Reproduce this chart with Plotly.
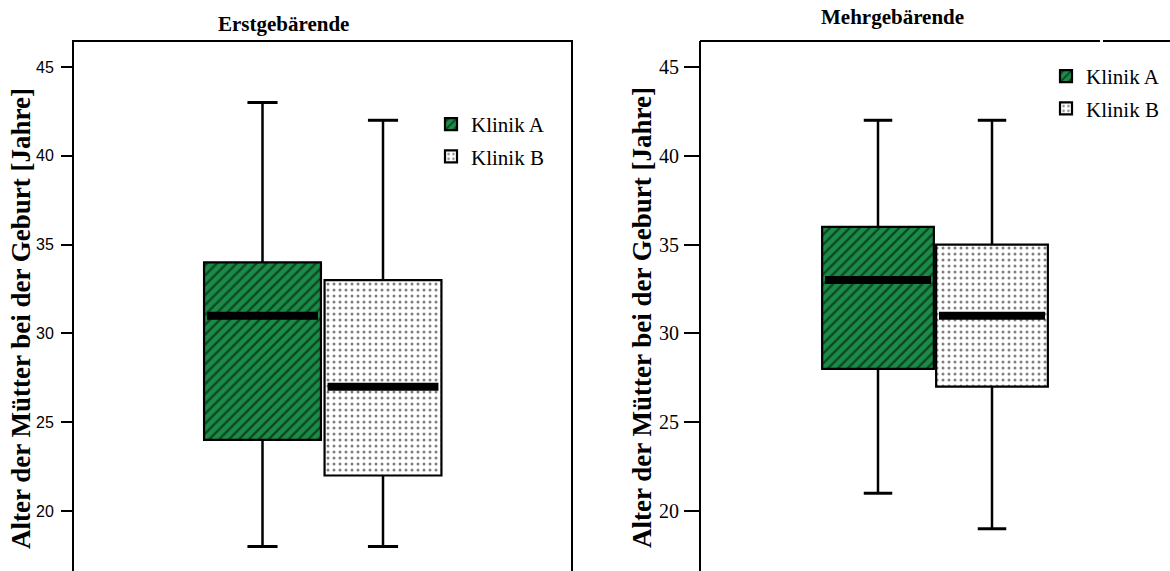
import plotly.graph_objects as go

# Box statistics (age of mothers at birth, years)
clinics = ["Klinik A", "Klinik B"]
positions = [0, 1]

erst_lower = [18, 18]
erst_q1 = [24, 22]
erst_median = [31, 27]
erst_q3 = [34, 33]
erst_upper = [43, 42]

mehr_lower = [21, 19]
mehr_q1 = [28, 27]
mehr_median = [33, 31]
mehr_q3 = [36, 35]
mehr_upper = [42, 42]

y_ticks = [20, 25, 30, 35, 40, 45]

GREEN = "#1b8c48"
patterns = [
    dict(shape="/", fgcolor="black", bgcolor=GREEN, size=7, solidity=0.33),
    dict(shape=".", fgcolor="black", bgcolor="white", size=6, solidity=0.2),
]
fill_colors = [GREEN, "white"]

W, H = 1170, 571
fig = go.Figure()


def add_panel(xa, ya, legend, lower, q1, med, q3, upper, box_w):
    for i, name in enumerate(clinics):
        fig.add_trace(go.Bar(
            x=[positions[i]], y=[q3[i] - q1[i]], base=[q1[i]], width=box_w,
            name=name, legend=legend, legendgroup=legend + name,
            marker=dict(color=fill_colors[i], pattern=patterns[i],
                        line=dict(color="black", width=2.2)),
            xaxis=xa, yaxis=ya, hoverinfo="skip",
        ))
    for i in range(len(clinics)):
        c = positions[i]
        # whiskers
        fig.add_trace(go.Scatter(
            x=[c, c, None, c, c], y=[q3[i], upper[i], None, q1[i], lower[i]],
            mode="lines", line=dict(color="black", width=2.5),
            showlegend=False, xaxis=xa, yaxis=ya, hoverinfo="skip"))
        # caps
        fig.add_trace(go.Scatter(
            x=[c - 0.125, c + 0.125, None, c - 0.125, c + 0.125],
            y=[upper[i], upper[i], None, lower[i], lower[i]],
            mode="lines", line=dict(color="black", width=3),
            showlegend=False, xaxis=xa, yaxis=ya, hoverinfo="skip"))
        # median
        half = box_w / 2 - 0.025
        fig.add_trace(go.Scatter(
            x=[c - half, c + half], y=[med[i], med[i]],
            mode="lines", line=dict(color="black", width=8),
            showlegend=False, xaxis=xa, yaxis=ya, hoverinfo="skip"))


add_panel("x", "y", "legend", erst_lower, erst_q1, erst_median, erst_q3, erst_upper, 0.97)
add_panel("x2", "y2", "legend2", mehr_lower, mehr_q1, mehr_median, mehr_q3, mehr_upper, 0.98)

# pixel geometry of the two panels
L1, R1 = 73, 572
L2, R2 = 700, 1170
TOP = 41
y_top = 1 - TOP / H
px_per_year = 444 / 25
y_range = [20 - (H - 511) / px_per_year, 45 + (67 - TOP) / px_per_year]

c1a, c1b = 262.5, 383.0
u1 = c1b - c1a
c2a, c2b = 878.0, 992.0
u2 = c2b - c2a

legend_font = dict(family="Liberation Serif, Times New Roman, serif", size=21, color="black")

fig.update_layout(
    width=W, height=H,
    margin=dict(l=0, r=0, t=0, b=0),
    paper_bgcolor="white", plot_bgcolor="white",
    barmode="overlay",
    xaxis=dict(domain=[L1 / W, R1 / W], range=[-(c1a - L1) / u1, 1 + (R1 - c1b) / u1],
               showticklabels=False, ticks="", showgrid=False, zeroline=False, showline=False),
    xaxis2=dict(domain=[L2 / W, R2 / W], range=[-(c2a - L2) / u2, 1 + (R2 - c2b) / u2],
                showticklabels=False, ticks="", showgrid=False, zeroline=False, showline=False,
                anchor="y2"),
    yaxis=dict(domain=[0, y_top], range=y_range, tickvals=y_ticks,
               ticks="outside", ticklen=11, tickwidth=2, tickcolor="black",
               ticklabelstandoff=4,
               tickfont=dict(family="Liberation Sans, Arial, sans-serif", size=16, color="black"),
               showgrid=False, zeroline=False, showline=False),
    yaxis2=dict(domain=[0, y_top], range=y_range, tickvals=y_ticks, anchor="x2",
                ticks="outside", ticklen=15, tickwidth=2, tickcolor="black",
                ticklabelstandoff=1,
                tickfont=dict(family="Liberation Serif, Times New Roman, serif", size=20, color="black"),
                showgrid=False, zeroline=False, showline=False),
    legend=dict(x=431 / W, y=1 - 104 / H, xanchor="left", yanchor="top",
                font=legend_font, bgcolor="rgba(0,0,0,0)", tracegroupgap=2),
    legend2=dict(x=1046 / W, y=1 - 56 / H, xanchor="left", yanchor="top",
                 font=legend_font, bgcolor="rgba(0,0,0,0)", tracegroupgap=2),
    showlegend=True,
)

# panel frames
frame = dict(color="black", width=2)
fig.add_shape(type="path", xref="x domain", yref="y domain",
              path="M 0 0 L 0 1 L 1 1 L 1 0", line=frame)
fig.add_shape(type="line", xref="x2 domain", yref="y2 domain",
              x0=0, x1=0, y0=0, y1=1, line=frame)
fig.add_shape(type="line", xref="x2 domain", yref="y2 domain",
              x0=0, x1=(1100 - L2) / (R2 - L2), y0=1, y1=1, line=frame)
fig.add_shape(type="line", xref="x2 domain", yref="y2 domain",
              x0=(1103 - L2) / (R2 - L2), x1=1, y0=1, y1=1, line=frame)

title_font = dict(family="Liberation Serif, Times New Roman, serif", size=21, color="black")
label_font = dict(family="Liberation Serif, Times New Roman, serif", size=27, color="black")
ylabel = "<b>Alter der Mütter bei der Geburt [Jahre]</b>"

fig.add_annotation(text="<b>Erstgebärende</b>", x=283 / W, y=1 - 24 / H, xref="paper", yref="paper",
                   showarrow=False, font=title_font, xanchor="center", yanchor="middle")
fig.add_annotation(text="<b>Mehrgebärende</b>", x=892 / W, y=1 - 17 / H, xref="paper", yref="paper",
                   showarrow=False, font=title_font, xanchor="center", yanchor="middle")
fig.add_annotation(text=ylabel, x=21 / W, y=1 - 319 / H, xref="paper", yref="paper",
                   showarrow=False, font=label_font, textangle=-90, xanchor="center", yanchor="middle")
fig.add_annotation(text=ylabel, x=642 / W, y=1 - 318 / H, xref="paper", yref="paper",
                   showarrow=False, font=label_font, textangle=-90, xanchor="center", yanchor="middle")

fig.write_html("out.html")
